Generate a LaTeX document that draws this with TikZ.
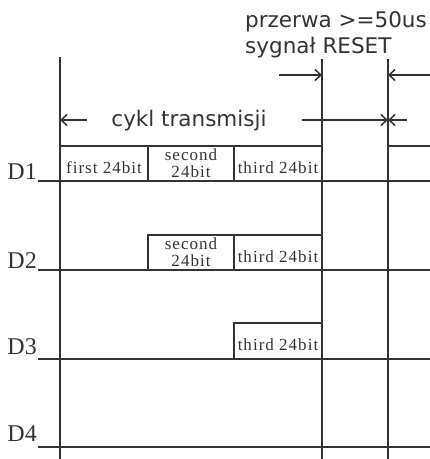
\documentclass[tikz,border=0pt]{standalone}
\usepackage{fontspec}
\setmainfont{Liberation Serif}
\newfontfamily\notesans{DejaVu Sans}
\newfontfamily\bitfont[LetterSpace=6]{Liberation Serif}
\usetikzlibrary{arrows.meta}

\begin{document}
\begin{tikzpicture}[x=1pt,y=-1pt,
  wire/.style={line width=2pt, draw=black!80},
  cell/.style={draw=black!80, line width=2pt, rectangle, inner sep=0pt,
    minimum height=35pt, align=center, font=\bitfont\fontsize{17}{17}\selectfont,
    text=black!80},
  oneline/.style={text height=19pt, text depth=0pt},
  dimarrow/.style={line width=1.5pt, draw=black!80,
    -{Straight Barb[length=6pt,width=11pt,line width=1.5pt]}},
  chan/.style={font=\fontsize{24}{24}\selectfont, text=black!80, inner sep=0pt, anchor=base east},
  note/.style={font=\notesans\fontsize{21.5}{26}\selectfont, text=black!80, inner sep=0pt}
]
\useasboundingbox (0,0) rectangle (430,459);

% channel labels
\node[chan] (lD1) at (37,179) {D1};
\node[chan] (lD2) at (37,268) {D2};
\node[chan] (lD3) at (37,354) {D3};
\node[chan] (lD4) at (37,441) {D4};

% data frames
\node[cell, oneline, minimum width=88pt] (d1a) at (104,163.5) {first 24bit};
\node[cell, minimum width=86pt] (d1b) at (191,163.5) {second\\24bit};
\node[cell, oneline, minimum width=88pt] (d1c) at (278,163.5) {third 24bit};
\node[cell, minimum width=86pt] (d2b) at (191,252.5) {second\\24bit};
\node[cell, oneline, minimum width=88pt] (d2c) at (278,252.5) {third 24bit};
\node[cell, oneline, minimum width=88pt, minimum height=36pt] (d3c) at (278,341) {third 24bit};

% channel base lines
\coordinate (b1l) at (38,181);  \coordinate (b1r) at (430,181);
\coordinate (b2l) at (38,270);  \coordinate (b2r) at (430,270);
\coordinate (b3l) at (38,359);  \coordinate (b3r) at (430,359);
\coordinate (b4l) at (38,447);  \coordinate (b4r) at (430,447);
\draw[wire] (b1l) -- (b1r);
\draw[wire] (b2l) -- (b2r);
\draw[wire] (b3l) -- (b3r);
\draw[wire] (b4l) -- (b4r);

% next cycle starts on D1
\coordinate (n1) at (388,146); \coordinate (n2) at (430,146);
\draw[wire] (n1) -- (n2);

% time markers
\coordinate (t0a) at (60,57);  \coordinate (t0b) at (60,459);
\coordinate (t1a) at (322,59); \coordinate (t1b) at (322,459);
\coordinate (t2a) at (388,59); \coordinate (t2b) at (388,459);
\draw[wire] (t0a) -- (t0b);
\draw[wire] (t1a) -- (t1b);
\draw[wire] (t2a) -- (t2b);

% reset pause annotation
\node[note, anchor=base west] (p1) at (245,27) {przerwa >=50us};
\node[note, anchor=base west] (p2) at (245,53) {sygnał RESET};
\coordinate (r1) at (279,75); \coordinate (r1t) at (322,75);
\coordinate (r2) at (430,75); \coordinate (r2t) at (388,75);
\draw[dimarrow] (r1) -- (r1t);
\draw[dimarrow] (r2) -- (r2t);

% transmission cycle annotation
\node[note] (cyc) at (189,121) {cykl transmisji};
\coordinate (c1) at (87,120);  \coordinate (c1t) at (60,120);
\coordinate (c2) at (302,120); \coordinate (c2t) at (388,120);
\coordinate (c3) at (407,120); \coordinate (c3t) at (388,120);
\draw[dimarrow] (c1) -- (c1t);
\draw[dimarrow] (c2) -- (c2t);
\draw[dimarrow] (c3) -- (c3t);
\end{tikzpicture}
\end{document}
